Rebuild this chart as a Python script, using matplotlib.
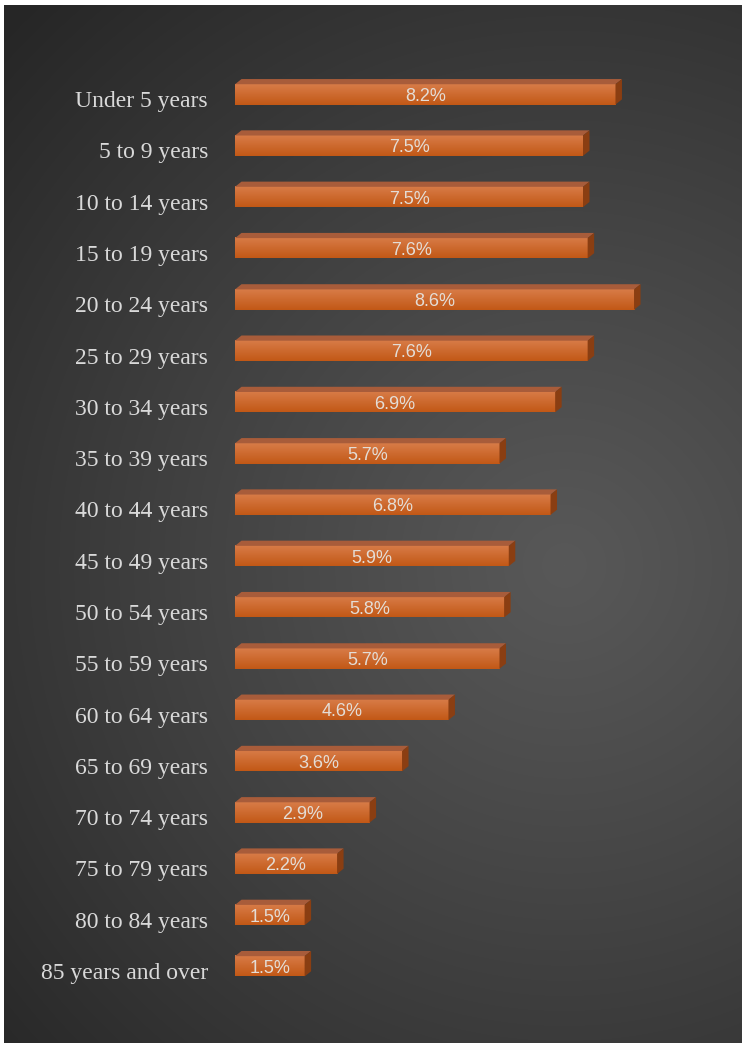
import matplotlib.pyplot as plt
import numpy as np
from matplotlib.patches import Polygon

plt.rcParams.update({"font.family": "Liberation Serif"})

age_groups = [
    "Under 5 years", "5 to 9 years", "10 to 14 years", "15 to 19 years",
    "20 to 24 years", "25 to 29 years", "30 to 34 years", "35 to 39 years",
    "40 to 44 years", "45 to 49 years", "50 to 54 years", "55 to 59 years",
    "60 to 64 years", "65 to 69 years", "70 to 74 years", "75 to 79 years",
    "80 to 84 years", "85 years and over",
]
shares = [8.2, 7.5, 7.5, 7.6, 8.6, 7.6, 6.9, 5.7, 6.8, 5.9, 5.8, 5.7,
          4.6, 3.6, 2.9, 2.2, 1.5, 1.5]
share_labels = [f"{v:.1f}%" for v in shares]

W, H = 743, 1045
fig = plt.figure(figsize=(W / 100, H / 100), dpi=100)
fig.patch.set_facecolor("white")

# background with radial gradient
bg = fig.add_axes([4 / W, 2 / H, 738 / W, 1038 / H])
bg.set_axis_off()
yy, xx = np.mgrid[0:1038, 0:738]
r = np.hypot(xx - 560, yy - 560) / 780
r = np.clip(r, 0, 1)
light, dark = 0x58 / 255, 0x26 / 255
shade = light + (dark - light) * r ** 1.1
bg.imshow(np.dstack([shade] * 3), aspect="auto", extent=(0, 1, 0, 1))
bg.set_xlim(0, 1)
bg.set_ylim(0, 1)

# main axes, pixel mapping
px_per_unit = 46.4
px_per_row = 51.29
x0_px, x1_px = 235, 735
top_px, bot_px = 40, 1020
row0_px = 94.4
ax = fig.add_axes([x0_px / W, 1 - bot_px / H, (x1_px - x0_px) / W, (bot_px - top_px) / H])
ax.set_axis_off()

h = 20.3 / px_per_row
dx = 6.5 / px_per_unit
dy = 5.2 / px_per_row

grad = np.linspace(0, 1, 64).reshape(-1, 1)
c_top = np.array([0xD8, 0x7C, 0x48]) / 255
c_bot = np.array([0xC2, 0x58, 0x16]) / 255
grad_img = c_top + (c_bot - c_top) * grad[:, :, None]

for i, (v, lab, txt) in enumerate(zip(shares, age_groups, share_labels)):
    top = i - h / 2
    bot = i + h / 2
    # front face
    ax.imshow(grad_img, extent=(0, v, bot, top), aspect="auto", zorder=2,
              interpolation="bilinear")
    # top face
    ax.add_patch(Polygon([(0, top), (v, top), (v + dx, top - dy), (dx, top - dy)],
                         closed=True, facecolor="#A85C3A", edgecolor="none", zorder=2))
    # side face
    ax.add_patch(Polygon([(v, top), (v + dx, top - dy), (v + dx, bot - dy), (v, bot)],
                         closed=True, facecolor="#8A3E12", edgecolor="none", zorder=2))
    ax.text(v / 2, i + 0.04, txt, ha="center", va="center", fontsize=13,
            family="Liberation Sans", color="#E4DDD6", zorder=3)
    ax.text(-27 / px_per_unit, i + 0.14, lab, ha="right", va="center", fontsize=17,
            color="#D9D9D9", clip_on=False)

ax.set_xlim(0, (x1_px - x0_px) / px_per_unit)
ax.set_ylim((bot_px - row0_px) / px_per_row, (top_px - row0_px) / px_per_row)

fig.savefig("out.png", dpi=100)
